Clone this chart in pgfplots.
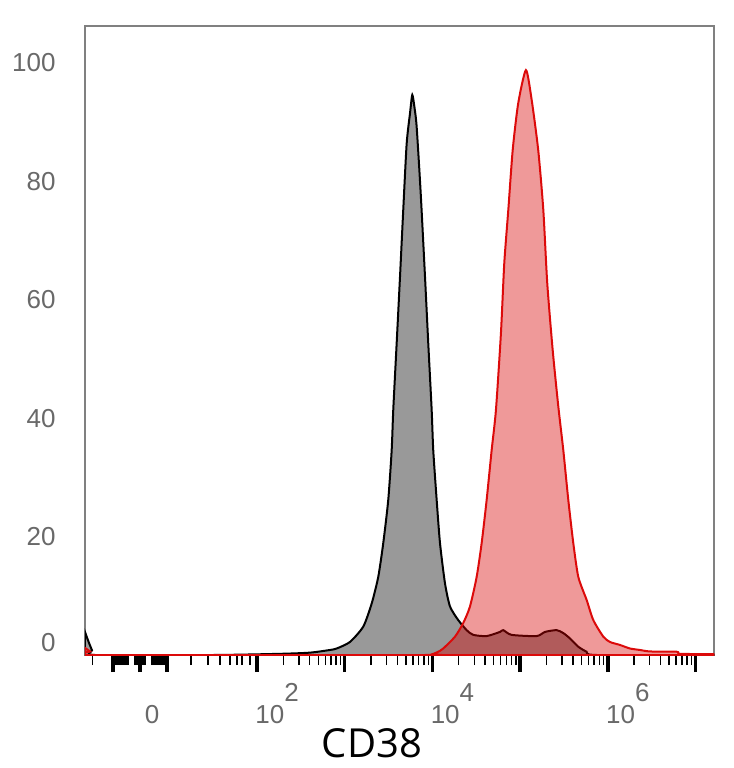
\documentclass[border=0pt]{standalone}
\usepackage{pgfplots}
\pgfplotsset{compat=1.18}
\usepackage{fontspec}
\setmainfont{Liberation Sans}
\newfontfamily\labelfont{Open Sans}
\definecolor{grayfill}{RGB}{153,153,153}
\definecolor{redline}{RGB}{220,10,10}
\definecolor{redfill}{RGB}{215,0,0}
\definecolor{ticklab}{RGB}{105,105,105}
\definecolor{framecol}{RGB}{128,128,128}

\pgfplotstableread{
u y
0.039 3.9
0.073 2.5
0.119 0.8
0.156 0
1.500 0
2.262 0.2
2.604 0.4
2.833 0.85
2.909 1.1
3.060 2.2
3.212 4.8
3.308 8.7
3.383 13.2
3.440 18.9
3.497 26.2
3.536 34.6
3.554 41.4
3.593 52.7
3.631 63.9
3.668 75.2
3.707 86.4
3.745 91.5
3.771 94.6
3.796 92.5
3.821 89.2
3.867 78.0
3.916 63.9
3.953 52.7
3.992 41.4
4.010 34.6
4.049 26.2
4.087 18.9
4.144 12.1
4.201 8.2
4.295 5.9
4.391 4.2
4.466 3.4
4.619 3.2
4.771 3.9
4.808 4.2
4.904 3.4
5.189 3.2
5.284 3.9
5.417 4.2
5.493 3.7
5.569 2.8
5.664 1.4
5.759 0.55
5.873 0
7.217 0
}\graydata

\pgfplotstableread{
u y
0.039 1.2
0.096 0.6
0.141 0
3.900 0
3.990 0.1
4.060 0.5
4.124 1.1
4.258 3.1
4.352 5.4
4.429 8.2
4.505 13.2
4.562 18.9
4.619 26.2
4.676 34.6
4.725 41.4
4.782 54.4
4.820 66.2
4.866 75.2
4.916 85.3
4.979 93.2
5.067 98.8
5.132 93.8
5.207 85.3
5.265 75.2
5.310 62.8
5.372 51.5
5.436 42.0
5.493 34.6
5.550 26.2
5.607 18.9
5.664 13.2
5.759 9.3
5.835 5.9
5.949 3.1
6.025 2.2
6.139 1.7
6.253 1.1
6.367 0.85
6.481 0.6
6.786 0.55
6.825 0.2
7.217 0.15
}\reddata

\begin{document}
\begin{tikzpicture}
\useasboundingbox (-42.5pt,-56.5pt) rectangle (324.5pt,327.5pt);
\begin{axis}[
  at={(0pt,0pt)}, anchor=south west,
  scale only axis, width=314.75pt, height=314.5pt,
  xmin=0.039, xmax=7.217, ymin=0, ymax=106.25,
  /pgf/number format/assume math mode=true,
  axis line style={draw=framecol, line width=1pt},
  tick align=outside,
  xtick pos=bottom, ytick pos=left,
  major tick length=8.5pt, minor tick length=5pt,
  xtick={0.358,0.666,0.974,2,3,4,5,6,7},
  xticklabels={,,,{10\raisebox{11pt}{2}},,{10\raisebox{11pt}{4}},,{10\raisebox{11pt}{6}},},
  minor xtick={0.127,0.347,0.358,0.369,0.381,0.392,0.404,0.415,0.427,0.438,0.449,0.461,0.472,0.483,0.495,0.506,0.517,0.529,
    0.609,0.620,0.632,0.643,0.654,0.666,0.677,0.688,0.700,0.711,0.723,
    0.803,0.814,0.826,0.837,0.849,0.860,0.871,0.883,0.894,0.905,0.917,0.928,0.939,0.951,0.962,0.974,0.985,
    1.247,1.441,1.578,1.692,1.772,1.829,1.92,
    2.301,2.477,2.602,2.699,2.778,2.845,2.903,2.954,
    3.301,3.477,3.602,3.699,3.778,3.845,3.903,3.954,
    4.301,4.477,4.602,4.699,4.778,4.845,4.903,4.954,
    5.301,5.477,5.602,5.699,5.778,5.845,5.903,5.954,
    6.301,6.477,6.602,6.699,6.778,6.845,6.903,6.954},
  xtick style={draw=black},
  every major x tick/.append style={line width=1.75pt},
  every minor x tick/.append style={line width=0.7pt},
  xticklabel style={anchor=base west, inner sep=0pt, xshift=-1pt, yshift=-25.5pt,
    font=\fontsize{13}{15}\selectfont, text=ticklab},
  extra x ticks={0.803},
  extra x tick labels={0},
  extra x tick style={xtick style={draw=none}, xticklabel style={anchor=base, xshift=1pt}},
  ytick={20,40,60,80,100},
  ytick style={draw=none},
  extra y ticks={0},
  extra y tick labels={0},
  extra y tick style={yticklabel style={yshift=6pt}},
  yticklabel style={anchor=east, inner sep=0pt, xshift=-6pt,
    font=\fontsize{13}{15}\selectfont, text=ticklab},
  xlabel={CD38},
  xlabel style={at={(axis description cs:0.456,0)}, anchor=base, yshift=-51pt,
    font=\labelfont\fontsize{20}{24}\selectfont, text=black},
]
\addplot[draw=black, line width=1pt, fill=grayfill, smooth, tension=0.4] table[x=u,y=y]{\graydata} \closedcycle;
\addplot[draw=redline, line width=1pt, fill=redfill, fill opacity=0.4, smooth, tension=0.4] table[x=u,y=y]{\reddata} \closedcycle;
\end{axis}
\end{tikzpicture}
\end{document}
